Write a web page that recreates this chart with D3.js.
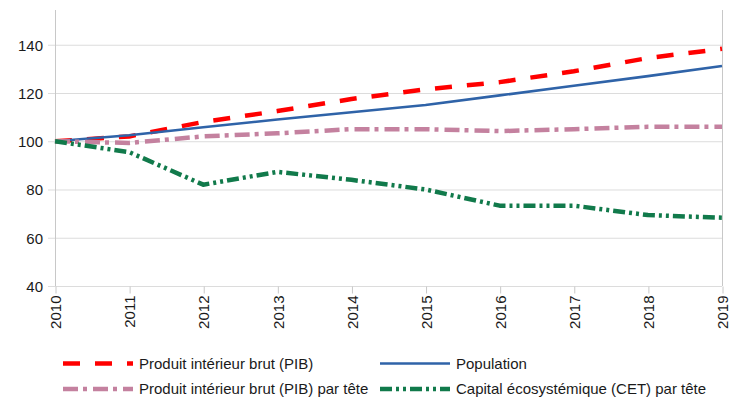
<!DOCTYPE html>
<html>
<head>
<meta charset="utf-8">
<script src="https://cdn.jsdelivr.net/npm/d3@7"></script>
<style>
  html, body { margin: 0; padding: 0; background: #fff; }
  svg { display: block; font-family: "Liberation Sans", Arial, sans-serif; }
  .grid line { stroke: #dcdcdc; stroke-width: 1; }
  .axis path, .axis line { stroke: #c8c8c8; }
  .axis text { fill: #1a1a1a; font-size: 15px; }
  .legend text { fill: #1a1a1a; font-size: 15px; }
</style>
</head>
<body>
<svg id="chart" width="754" height="412"></svg>
<script>
  // ── Data ────────────────────────────────────────────────────────────────
  var years      = [2010, 2011, 2012, 2013, 2014, 2015, 2016, 2017, 2018, 2019];
  var pib        = [100, 102, 108, 112.5, 117.5, 121.5, 124.5, 129, 134.5, 138.3];
  var population = [100, 102.5, 105.8, 109, 112, 115, 119, 123, 127, 131.2];
  var pibTete    = [100, 99.3, 102, 103.3, 105, 105, 104.2, 105, 106, 106];
  var cetTete    = [100, 95.5, 82, 87.3, 84, 80, 73.3, 73.3, 69.4, 68.3];
  var yTicks     = [40, 60, 80, 100, 120, 140];

  var series = [
    { name: 'Produit intérieur brut (PIB)',            values: pib,        color: '#ff0000', width: 4.5, dash: '17,15' },
    { name: 'Population',                              values: population, color: '#2f63a8', width: 2.6, dash: null },
    { name: 'Produit intérieur brut (PIB) par tête',   values: pibTete,    color: '#c4819f', width: 4.5, dash: '15,5,4,6' },
    { name: 'Capital écosystémique (CET) par tête',    values: cetTete,    color: '#117a4b', width: 4.5, dash: '12,4,3,4,3,4' }
  ];

  (function () {
    'use strict';

    // ── Layout ────────────────────────────────────────────────────────────
    var left = 55, right = 722, plotTop = 10, bottom = 286;
    var svg = d3.select('#chart');

    var x = d3.scaleLinear().domain([2010, 2019]).range([left, right]);
    var y = d3.scaleLinear().domain([40, 154.4]).range([bottom, plotTop]);

    // horizontal grid
    svg.append('g').attr('class', 'grid')
      .selectAll('line').data(yTicks).join('line')
      .attr('x1', left - 7).attr('x2', right)
      .attr('y1', function (d) { return y(d) + 0.5; })
      .attr('y2', function (d) { return y(d) + 0.5; });

    // left + right frame lines
    svg.append('line').attr('x1', left + 0.5).attr('x2', left + 0.5)
      .attr('y1', plotTop).attr('y2', bottom).attr('stroke', '#c8c8c8');
    svg.append('line').attr('x1', right + 0.5).attr('x2', right + 0.5)
      .attr('y1', plotTop).attr('y2', bottom).attr('stroke', '#c8c8c8');

    // y axis labels
    var yAxis = svg.append('g').attr('class', 'axis')
      .attr('transform', 'translate(' + (left - 7) + ',0.5)')
      .call(d3.axisLeft(y).tickValues(yTicks).tickSize(0).tickPadding(5));
    yAxis.select('.domain').remove();

    // x axis
    var xAxis = svg.append('g').attr('class', 'axis')
      .attr('transform', 'translate(0.5,' + (bottom + 0.5) + ')')
      .call(d3.axisBottom(x).tickValues(years).tickFormat(d3.format('d')).tickSize(7).tickSizeOuter(0));
    xAxis.select('.domain').remove();
    xAxis.selectAll('text')
      .attr('transform', 'rotate(-90)')
      .attr('text-anchor', 'end')
      .attr('x', -9).attr('y', 0).attr('dy', '0.35em');

    // lines
    var line = d3.line()
      .x(function (d, i) { return x(years[i]); })
      .y(function (d) { return y(d); });

    series.forEach(function (s) {
      svg.append('path')
        .datum(s.values)
        .attr('fill', 'none')
        .attr('stroke', s.color)
        .attr('stroke-width', s.width)
        .attr('stroke-dasharray', s.dash)
        .attr('stroke-linejoin', 'round')
        .attr('d', line);
    });

    // ── Legend ────────────────────────────────────────────────────────────
    var legendPos = [
      { x: 63,  y: 363.5 },
      { x: 380, y: 363.5 },
      { x: 63,  y: 389 },
      { x: 380, y: 389 }
    ];
    var legend = svg.append('g').attr('class', 'legend');
    series.forEach(function (s, i) {
      var p = legendPos[i];
      var g = legend.append('g').attr('transform', 'translate(' + p.x + ',' + p.y + ')');
      g.append('line')
        .attr('x1', 0).attr('x2', 70).attr('y1', 0).attr('y2', 0)
        .attr('stroke', s.color)
        .attr('stroke-width', s.width)
        .attr('stroke-dasharray', s.dash);
      g.append('text')
        .attr('x', 76).attr('y', 0).attr('dy', '0.35em')
        .text(s.name);
    });
  })();
</script>
</body>
</html>
